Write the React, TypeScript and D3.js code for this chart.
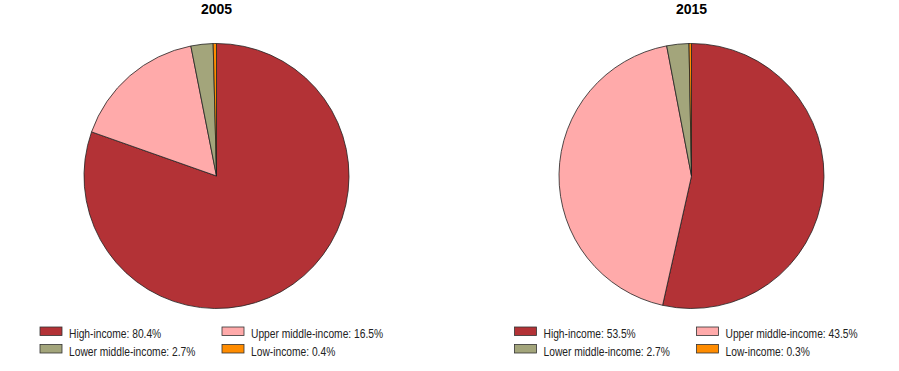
import React from "react";
import * as d3 from "d3";

const categories = ["High-income", "Upper middle-income", "Lower middle-income", "Low-income"];
const years = ["2005", "2015"];
const values2005 = [80.4, 16.5, 2.7, 0.4];
const values2015 = [53.5, 43.5, 2.7, 0.3];
const colors = ["#B33236", "#FFAAAA", "#A3A57B", "#FF8C00"];

const W = 899;
const H = 371;

function Pie({ cx, title, values, legendX }: { cx: number; title: string; values: number[]; legendX: number }) {
  const cy = 176;
  const r = 132.5;
  const pie = d3.pie<number>().sort(null).value((d) => d).startAngle(0).endAngle(2 * Math.PI);
  const arc = d3.arc<d3.PieArcDatum<number>>().innerRadius(0).outerRadius(r);
  const arcs = pie(values);
  const colW = 182;
  return (
    <g>
      <text x={cx} y={14} textAnchor="middle" fontFamily="Liberation Sans, Arial, sans-serif" fontWeight="bold" fontSize={14} fill="#000">
        {title}
      </text>
      <g transform={`translate(${cx},${cy})`}>
        {arcs.map((a, i) => (
          <path key={i} d={arc(a) || ""} fill={colors[i]} stroke="#222" strokeWidth={0.8} />
        ))}
      </g>
      {categories.map((c, i) => {
        const col = i % 2;
        const row = Math.floor(i / 2);
        const x = legendX + col * colW;
        const y = 327 + row * 17.5;
        return (
          <g key={c}>
            <rect x={x} y={y} width={22} height={8.5} fill={colors[i]} stroke="#333" strokeWidth={0.8} />
            <g transform={`translate(${x + 29},${y + 11}) scale(0.82,1)`}>
              <text x={0} y={0} fontFamily="Liberation Sans, Arial, sans-serif" fontSize={12.5} fill="#222">
                {`${c}: ${values[i].toFixed(1)}%`}
              </text>
            </g>
          </g>
        );
      })}
    </g>
  );
}

export default function App() {
  return (
    <svg width={W} height={H} style={{ position: "absolute", left: 0, top: 0, background: "#fff" }}>
      <rect width={W} height={H} fill="#fff" />
      <Pie cx={216.5} title={years[0]} values={values2005} legendX={40} />
      <Pie cx={691.5} title={years[1]} values={values2015} legendX={514.5} />
    </svg>
  );
}
